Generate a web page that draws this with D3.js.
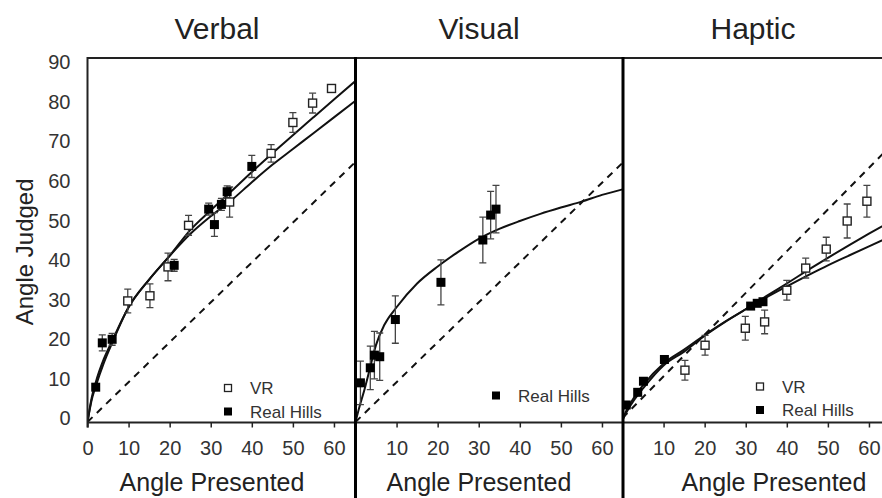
<!DOCTYPE html>
<html>
<head>
<meta charset="utf-8">
<script src="https://cdn.jsdelivr.net/npm/d3@7"></script>
<style>
  body { margin: 0; background: #fff; }
  svg { font-family: Arial, "Liberation Sans", sans-serif; }
</style>
</head>
<body>
<svg></svg>
<script>
const width = 882;
const height = 498;

// tick labels
const xTicks = [0, 10, 20, 30, 40, 50, 60];
const yTicks = [0, 10, 20, 30, 40, 50, 60, 70, 80, 90];
const titles = ["Verbal", "Visual", "Haptic"];

// Verbal
const verbalVrX = [9.8, 15.2, 19.6, 24.6, 34.6, 44.7, 50.0, 54.8, 59.4];
const verbalVrY = [30.6, 31.9, 39.2, 49.7, 55.6, 67.9, 75.7, 80.6, 84.3];
const verbalVrErr = [3, 3, 3.5, 2.5, 3.8, 2.2, 2.5, 2.5, 0];
const verbalRealX = [2.0, 3.6, 6.0, 21.1, 29.5, 30.9, 32.6, 34.0, 40.0];
const verbalRealY = [8.8, 20.0, 20.9, 39.6, 53.8, 49.9, 55.0, 58.2, 64.6];
const verbalRealErr = [0, 2, 1.5, 1.5, 1.5, 3, 1.5, 1.5, 2.8];
const verbalFitX = [0, 1, 2, 4, 6, 10, 15, 20, 25, 30, 35, 40, 45, 50, 55, 60, 65];
const verbalFitVr = [0, 5.5, 9, 15, 20, 29, 36, 42, 48.5, 53.5, 58.3, 63.2, 67.9, 72.5, 77, 81.5, 86];
const verbalFitReal = [0, 6, 10, 16, 20.5, 29, 36, 42, 47.5, 52, 56, 60.6, 65, 69, 73, 77, 81];

// Visual
const visualRealX = [1.2, 3.6, 4.6, 5.9, 9.7, 20.8, 31.0, 32.9, 34.2];
const visualRealY = [9.9, 13.7, 16.9, 16.5, 25.9, 35.3, 46.0, 52.3, 53.8];
const visualRealErr = [5.5, 5.5, 6, 6, 6, 5.7, 5.8, 6, 6];
const visualFitX = [0, 1, 2, 3.5, 5, 7, 10, 15, 20, 25, 30, 35, 40, 45, 50, 55, 60, 65];
const visualFitReal = [0, 4, 7.5, 13.5, 19.5, 24.5, 29, 35, 39.3, 43, 46.3, 48.8, 50.8, 52.6, 54.2, 55.7, 57.4, 58.8];

// Haptic
const hapticVrX = [15.2, 20.1, 29.9, 34.6, 40.0, 44.6, 49.6, 54.7, 59.5];
const hapticVrY = [13.1, 19.4, 23.7, 25.3, 33.3, 38.9, 43.7, 50.8, 55.8];
const hapticVrErr = [2.5, 2.5, 3, 3, 2.5, 2.5, 3, 4.3, 4];
const hapticRealX = [0.9, 3.7, 5.1, 10.2, 31.2, 32.8, 34.2];
const hapticRealY = [4.3, 7.5, 10.3, 15.8, 29.3, 30.0, 30.4];
const hapticRealErr = [0, 0, 0, 0, 0, 0, 0];
const hapticFitX = [0, 1, 3, 5, 10, 15, 20, 25, 30, 35, 40, 45, 50, 55, 60, 65];
const hapticFitVr = [0.5, 2.5, 5.8, 8.5, 14.3, 17.8, 21.8, 25.3, 28.5, 31.8, 35, 38.3, 41.5, 44.6, 47.6, 50.5];
const hapticFitReal = [0.5, 3, 6.5, 9.3, 14.8, 18.3, 22, 25.4, 28.5, 31.5, 34.3, 37, 39.6, 42, 44.4, 46.8];

// identity (dashed) lines
const verbalDiagX = [0, 65];
const verbalDiagY = [0, 65.5];
const visualDiagX = [0, 65];
const visualDiagY = [0, 65.5];
const hapticDiagX = [0, 65];
const hapticDiagY = [1, 69.5];

const zip = (xs, ys, es) => xs.map((x, i) => ({x: x, y: ys[i], e: es ? es[i] : 0}));

const panels = [
  {
    title: titles[0], range: [87.5, 354.5], tickLabels: xTicks, titleX: 217, labelX: 212,
    vr: zip(verbalVrX, verbalVrY, verbalVrErr),
    real: zip(verbalRealX, verbalRealY, verbalRealErr),
    fits: [zip(verbalFitX, verbalFitVr), zip(verbalFitX, verbalFitReal)],
    diag: zip(verbalDiagX, verbalDiagY),
    legend: {x: 228, y: 388, vr: true}
  },
  {
    title: titles[1], range: [355.5, 622.5], tickLabels: xTicks.slice(1), titleX: 479, labelX: 479,
    vr: [],
    real: zip(visualRealX, visualRealY, visualRealErr),
    fits: [zip(visualFitX, visualFitReal)],
    diag: zip(visualDiagX, visualDiagY),
    legend: {x: 496, y: 395.5, vr: false}
  },
  {
    title: titles[2], range: [622.5, 889.5], tickLabels: xTicks.slice(1), titleX: 753, labelX: 774,
    vr: zip(hapticVrX, hapticVrY, hapticVrErr),
    real: zip(hapticRealX, hapticRealY, hapticRealErr),
    fits: [zip(hapticFitX, hapticFitVr), zip(hapticFitX, hapticFitReal)],
    diag: zip(hapticDiagX, hapticDiagY),
    legend: {x: 760, y: 386.5, vr: true}
  }
];

const svg = d3.select("svg").attr("width", width).attr("height", height);

const yScale = d3.scaleLinear().domain([0, 92]).range([422, 58]);
const plotTop = yScale(92);
const plotBottom = 422.5;

// y axis
const yAxis = d3.axisLeft(yScale).tickValues(yTicks).tickSize(0).tickPadding(17);
const yG = svg.append("g").attr("transform", "translate(87.5,-3.5)").call(yAxis);
yG.select(".domain").remove();
yG.selectAll("text").style("font-size", "20px").attr("fill", "#333");

svg.append("text")
  .attr("transform", "translate(33," + yScale(43) + ") rotate(-90)")
  .attr("text-anchor", "middle")
  .style("font-size", "24px")
  .attr("fill", "#222")
  .text("Angle Judged");

panels.forEach((p, idx) => {
  const xScale = d3.scaleLinear().domain([0, 65]).range(p.range);
  const g = svg.append("g");

  // x axis
  const xAxis = d3.axisBottom(xScale).tickValues(xTicks).tickSize(5).tickPadding(13)
    .tickFormat(d => p.tickLabels.includes(d) ? d : "");
  const xG = g.append("g").attr("transform", "translate(0," + plotBottom + ")").call(xAxis);
  xG.select(".domain").remove();
  xG.selectAll("line").attr("stroke", "#222").attr("stroke-width", 1.5);
  xG.selectAll("text").style("font-size", "20px").attr("fill", "#333");

  // titles and x labels
  g.append("text").attr("x", p.titleX).attr("y", 39).attr("text-anchor", "middle")
    .style("font-size", "30px").attr("fill", "#222").text(p.title);
  g.append("text").attr("x", p.labelX).attr("y", 491).attr("text-anchor", "middle")
    .style("font-size", "25px").attr("fill", "#222").text("Angle Presented");

  const clipId = "clip" + idx;
  svg.append("clipPath").attr("id", clipId).append("rect")
    .attr("x", p.range[0]).attr("y", plotTop).attr("width", p.range[1] - p.range[0]).attr("height", plotBottom - plotTop + 2);
  const plot = g.append("g").attr("clip-path", "url(#" + clipId + ")");

  const line = d3.line().x(d => xScale(d.x)).y(d => yScale(d.y));

  // dashed identity
  plot.append("path").datum(p.diag).attr("d", line)
    .attr("fill", "none").attr("stroke", "#111").attr("stroke-width", 2).attr("stroke-dasharray", "7,6");

  // fits
  p.fits.forEach(f => {
    plot.append("path").datum(f).attr("d", line.curve(d3.curveMonotoneX))
      .attr("fill", "none").attr("stroke", "#111").attr("stroke-width", 2);
  });
  line.curve(d3.curveLinear);

  // error bars
  const bars = p.vr.concat(p.real).filter(d => d.e > 0);
  const eb = plot.selectAll(".eb" + idx).data(bars).enter().append("g");
  eb.append("line")
    .attr("x1", d => xScale(d.x)).attr("x2", d => xScale(d.x))
    .attr("y1", d => yScale(d.y - d.e)).attr("y2", d => yScale(d.y + d.e))
    .attr("stroke", "#444").attr("stroke-width", 1.3);
  [-1, 1].forEach(s => {
    eb.append("line")
      .attr("x1", d => xScale(d.x) - 3.5).attr("x2", d => xScale(d.x) + 3.5)
      .attr("y1", d => yScale(d.y + s * d.e)).attr("y2", d => yScale(d.y + s * d.e))
      .attr("stroke", "#444").attr("stroke-width", 1.3);
  });

  // markers
  plot.selectAll(".vr" + idx).data(p.vr).enter().append("rect")
    .attr("x", d => xScale(d.x) - 4).attr("y", d => yScale(d.y) - 4)
    .attr("width", 8).attr("height", 8)
    .attr("fill", "#fff").attr("stroke", "#222").attr("stroke-width", 1.4);
  plot.selectAll(".real" + idx).data(p.real).enter().append("rect")
    .attr("x", d => xScale(d.x) - 4.5).attr("y", d => yScale(d.y) - 4.5)
    .attr("width", 9).attr("height", 9)
    .attr("fill", "#000");

  // legend
  const lg = g.append("g").attr("transform", "translate(" + p.legend.x + "," + p.legend.y + ")");
  let ly = 0;
  if (p.legend.vr) {
    lg.append("rect").attr("x", -3.5).attr("y", -3.5).attr("width", 7).attr("height", 7)
      .attr("fill", "#fff").attr("stroke", "#222").attr("stroke-width", 1.3);
    lg.append("text").attr("x", 22).attr("y", 6).style("font-size", "17px").attr("fill", "#333").text("VR");
    ly = 23.5;
  }
  lg.append("rect").attr("x", -4).attr("y", ly - 4).attr("width", 8).attr("height", 8).attr("fill", "#000");
  lg.append("text").attr("x", 22).attr("y", ly + 6).style("font-size", "17px").attr("fill", "#333").text("Real Hills");
});

// frame
svg.append("line").attr("x1", 87.5).attr("x2", width).attr("y1", plotTop).attr("y2", plotTop)
  .attr("stroke", "#222").attr("stroke-width", 2);
svg.append("line").attr("x1", 87.5).attr("x2", width).attr("y1", plotBottom).attr("y2", plotBottom)
  .attr("stroke", "#222").attr("stroke-width", 2);
svg.append("line").attr("x1", 87.5).attr("x2", 87.5).attr("y1", plotTop - 1).attr("y2", plotBottom + 5)
  .attr("stroke", "#222").attr("stroke-width", 2);
[355.5, 623].forEach(x => {
  svg.append("line").attr("x1", x).attr("x2", x).attr("y1", plotTop - 1).attr("y2", height)
    .attr("stroke", "#000").attr("stroke-width", 3);
});
</script>
</body>
</html>
